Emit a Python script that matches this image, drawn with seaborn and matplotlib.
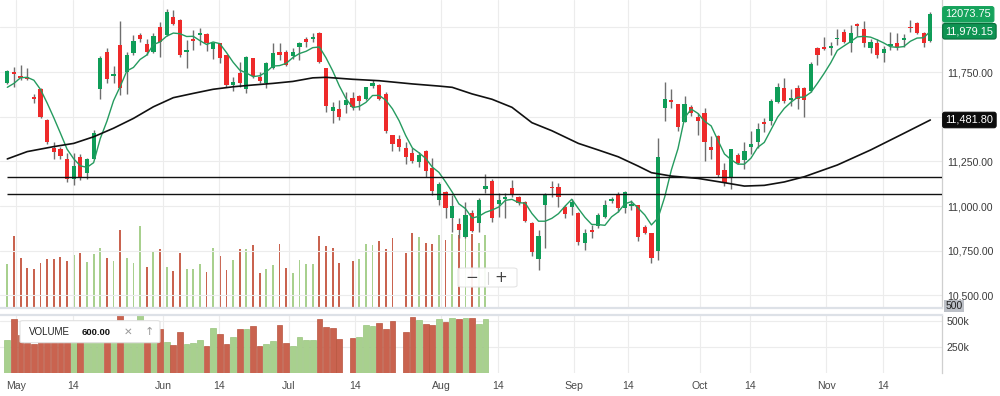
import numpy as np
import pandas as pd
import matplotlib
matplotlib.use("Agg")
import matplotlib.pyplot as plt
import matplotlib.transforms as mtransforms
from matplotlib.patches import FancyBboxPatch
from matplotlib.lines import Line2D
import seaborn as sns

# ---------------- data ----------------
opens = [11689, 11752, 11727, 11724, 11613, 11654, 11482, 11327, 11318, 11262,
         11152, 11276, 11187, 11265, 11654, 11864, 11728, 11902, 11752, 11859,
         11958, 11908, 11864, 12001, 11958, 12057, 12042, 11864, 11936, 11958,
         11964, 11878, 11912, 11846, 11678, 11744, 11654, 11828, 11724, 11691,
         11772, 11861, 11864, 11840, 11892, 11934, 11934, 11967, 11772, 11534,
         11542, 11566, 11604, 11618, 11598, 11672, 11678, 11628, 11398, 11374,
         11324, 11296, 11248, 11308, 11211, 11034, 11081, 10931, 10900, 10825,
         10963, 10903, 11094, 11142, 11010, 11040, 11099, 11053, 11025, 10907,
         10702, 11006, 11109, 11105, 10993, 10993, 10963, 10795, 10866, 10888,
         10941, 11028, 11066, 10987, 11000, 11006, 10881, 10847, 10750, 11547,
         11592, 11572, 11473, 11557, 11497, 11519, 11329, 11392, 11202, 11165,
         11286, 11258, 11333, 11361, 11469, 11476, 11585, 11663, 11594, 11663,
         11659, 11646, 11883, 11893, 11883, 11934, 11977, 11915, 12020, 11990,
         11883, 11915, 11859, 11898, 11915, 11930, 12005, 12027, 11967, 11926]
highs = [11760, 11780, 11788, 11772, 11628, 11660, 11486, 11361, 11333, 11296,
         11296, 11290, 11268, 11426, 11840, 11884, 11784, 12038, 11864, 11958,
         11967, 11934, 11971, 12032, 12102, 12098, 12046, 11930, 11986, 11995,
         11967, 11920, 11915, 11846, 11724, 11808, 11840, 11830, 11752, 11808,
         11915, 11915, 11874, 11884, 11920, 11948, 11967, 11976, 11774, 11584,
         11594, 11640, 11640, 11622, 11668, 11706, 11684, 11640, 11400, 11398,
         11361, 11324, 11304, 11312, 11267, 11137, 11083, 11062, 10931, 11025,
         10978, 11043, 11180, 11150, 11075, 11075, 11146, 11055, 11027, 10909,
         10866, 11071, 11142, 11127, 11006, 11038, 10965, 10870, 10894, 10959,
         11034, 11053, 11081, 11084, 11034, 11008, 10894, 10849, 11380, 11697,
         11654, 11574, 11616, 11566, 11523, 11547, 11392, 11398, 11239, 11320,
         11295, 11361, 11422, 11467, 11491, 11598, 11687, 11715, 11654, 11678,
         11665, 11809, 11893, 11945, 11921, 11990, 11990, 12014, 12025, 12036,
         11934, 11934, 11896, 11977, 11967, 11962, 12042, 12029, 11977, 12085]
lows = [11686, 11665, 11706, 11706, 11579, 11491, 11348, 11262, 11262, 11137,
        11118, 11146, 11152, 11262, 11598, 11691, 11689, 11622, 11626, 11846,
        11920, 11846, 11859, 11836, 11952, 12014, 11833, 11772, 11874, 11902,
        11870, 11822, 11800, 11665, 11646, 11665, 11635, 11716, 11688, 11660,
        11766, 11818, 11784, 11822, 11818, 11892, 11920, 11800, 11528, 11467,
        11482, 11520, 11538, 11538, 11594, 11660, 11594, 11408, 11310, 11310,
        11236, 11240, 11217, 11161, 11062, 11006, 10931, 10857, 10819, 10819,
        10857, 10857, 11071, 10913, 10941, 10931, 11053, 11006, 10913, 10720,
        10642, 10763, 11053, 10993, 10931, 10950, 10782, 10754, 10819, 10875,
        10931, 11015, 10969, 10959, 10978, 10806, 10844, 10679, 10698, 11478,
        11547, 11422, 11471, 11504, 11398, 11254, 11262, 11165, 11112, 11094,
        11236, 11206, 11292, 11323, 11417, 11454, 11579, 11579, 11560, 11542,
        11497, 11641, 11790, 11874, 11846, 11902, 11911, 11865, 11950, 11893,
        11855, 11827, 11809, 11874, 11874, 11893, 11977, 11964, 11889, 11921]
closes = [11756, 11740, 11716, 11714, 11598, 11497, 11361, 11304, 11280, 11152,
          11226, 11164, 11262, 11411, 11828, 11710, 11740, 11660, 11846, 11926,
          11934, 11864, 11952, 11920, 12088, 12020, 11846, 11874, 11926, 11967,
          11912, 11915, 11828, 11678, 11696, 11691, 11833, 11728, 11700, 11803,
          11856, 11846, 11790, 11864, 11915, 11919, 11948, 11808, 11560, 11552,
          11497, 11594, 11556, 11590, 11665, 11691, 11598, 11422, 11348, 11332,
          11273, 11252, 11286, 11195, 11086, 11124, 10987, 11000, 10866, 10950,
          10862, 11034, 11112, 10931, 11034, 11049, 11062, 11019, 10918, 10745,
          10832, 11062, 11099, 11049, 10956, 11025, 10801, 10851, 10853, 10950,
          11006, 11038, 10987, 11081, 11012, 10825, 10847, 10707, 11276, 11598,
          11581, 11445, 11572, 11519, 11478, 11361, 11314, 11174, 11131, 11318,
          11239, 11310, 11346, 11430, 11458, 11590, 11665, 11590, 11603, 11598,
          11594, 11796, 11846, 11878, 11896, 11943, 11921, 11967, 12010, 11911,
          11921, 11846, 11878, 11906, 11893, 11943, 11995, 11967, 11915, 12073.75]
prior_closes = [11630, 11556, 11704, 11679]   # closes before the first candle (feed the 5-day average)

# volume in thousands (only the first sessions carry volume)
volume_k = [312, 514, 360, 284, 277, 320, 353, 353, 364, 336,
            376, 395, 331, 388, 428, 360, 336, 554, 355, 324,
            585, 296, 400, 419, 296, 265, 395, 277, 282, 312,
            260, 428, 372, 272, 343, 424, 424, 447, 253, 277,
            305, 459, 284, 253, 343, 317, 312, 514, 443, 426,
            320, 0, 336, 348, 459, 447, 478, 424, 497, 0,
            395, 537, 507, 466, 459, 518, 483, 530, 518, 525,
            530, 466, 518]

# long moving average (black line) read at sampled sessions
long_ma_idx = [0, 3, 7, 10, 13, 16, 19, 22, 25, 28, 31, 34, 37, 40, 43, 46, 48,
               52, 56, 61, 65, 67, 70, 73, 76, 79, 82, 86, 89, 92, 95, 97, 100,
               104, 108, 111, 114, 117, 120, 125, 130, 135, 139]
long_ma_val = [11264, 11305, 11333, 11351, 11388, 11436, 11491, 11556, 11607, 11631,
               11654, 11668, 11678, 11687, 11698, 11718, 11721, 11710, 11702, 11684,
               11672, 11665, 11628, 11598, 11553, 11467, 11422, 11351, 11314, 11276,
               11224, 11187, 11168, 11155, 11131, 11112, 11116, 11135, 11164, 11230,
               11314, 11407, 11482]

support_levels = [11160, 11066]
price_ticks = [10500, 10750, 11000, 11250, 11500, 11750, 12000]
hidden_price_labels = [11500, 12000]          # covered by the value badges in the reference
vol_ticks_k = [250, 500]
vol_tick_labels = ["250k", "500k"]
month_tick_pos = [1.31, 9.89, 23.45, 31.88, 42.42, 52.36, 65.32, 73.90,
                  85.35, 93.48, 104.32, 111.85, 123.30, 131.88]
month_tick_labels = ["May", "14", "Jun", "14", "Jul", "14", "Aug", "14",
                     "Sep", "14", "Oct", "14", "Nov", "14"]
last_close_label = "12073.75"
short_ma_label = "11,979.15"
long_ma_label = "11,481.80"
legend_value = "600.00"

# ---------------- styling ----------------
sns.set_theme(style="white")
plt.rcParams['font.family'] = ['Liberation Sans', 'DejaVu Sans']

GREEN = "#0f9d58"
RED = "#ee2a2a"
WICK = "#6e6e6e"
VOL_GREEN = "#a8d08e"
VOL_RED = "#c9634f"
GRID = "#ececec"
TXT = "#3a3a3a"

n = len(closes)
df = pd.DataFrame({"i": np.arange(n), "open": opens, "high": highs,
                   "low": lows, "close": closes})
df["up"] = df["close"] >= df["open"]
all_close = pd.Series(prior_closes + closes, dtype=float)
df["ma5"] = all_close.rolling(5).mean().iloc[len(prior_closes):].to_numpy()

vdf = pd.DataFrame({"i": np.arange(len(volume_k)), "vol": volume_k})
prev_close = [prior_closes[-1]] + closes[:-1]
vdf["up"] = [closes[k] >= prev_close[k] for k in range(len(volume_k))]

W, H = 1000, 396
def rect(x0, y0, x1, y1):
    return [x0 / W, 1 - y1 / H, (x1 - x0) / W, (y1 - y0) / H]

fig = plt.figure(figsize=(10, 3.96), dpi=100)
fig.patch.set_facecolor("white")
ax_vol = fig.add_axes(rect(0, 0, 942, 308.3))
ax = fig.add_axes(rect(0, 0, 942, 308.3), sharex=ax_vol)
ax_low = fig.add_axes(rect(0, 315, 942, 372.7), sharex=ax_vol)
ax.patch.set_visible(False)

XL = (-1.10, 140.76)

# overlay volume in the price panel
ax_vol.bar(vdf["i"], vdf["vol"], width=0.28,
           color=np.where(vdf["up"], VOL_GREEN, VOL_RED), linewidth=0)
ax_vol.set_ylim(0, 2189)
ax_vol.set_xlim(*XL)
ax_vol.axis("off")

# grid
ax.set_xticks(month_tick_pos)
ax.set_yticks(price_ticks)
ax.grid(True, color=GRID, lw=0.8)
ax.set_axisbelow(True)

# candles
ax.vlines(df["i"], df["low"], df["high"], color=WICK, lw=1.0, zorder=2)
body_h = np.maximum((df["close"] - df["open"]).abs(), 6)
ax.bar(df["i"], body_h, bottom=np.minimum(df["open"], df["close"]), width=0.64,
       color=np.where(df["up"], GREEN, RED), linewidth=0, zorder=3)

# moving averages
sns.lineplot(x=df["i"], y=df["ma5"], ax=ax, color="#259b5f", lw=1.0, zorder=4)
sns.lineplot(x=long_ma_idx, y=long_ma_val, ax=ax, color="#111111", lw=1.2, zorder=4)

# support lines
ax.hlines(support_levels, 0, XL[1], color="#111111", lw=1.0, zorder=4)

ax.set_xlim(*XL)
ax.set_ylim(10427.5, 12154)
ax.set_xlabel("")
ax.set_ylabel("")
ax.yaxis.tick_right()
ax.set_yticklabels(["" if v in hidden_price_labels else f"{v:,.2f}" for v in price_ticks])
ax.tick_params(axis="y", length=0, pad=3.4, labelsize=7.6, colors=TXT)
ax.tick_params(axis="x", length=0, labelbottom=False)
for s in ["top", "left"]:
    ax.spines[s].set_visible(False)
ax.spines["right"].set_color("#cfcfcf")
ax.spines["right"].set_linewidth(0.9)
ax.spines["bottom"].set_color("#dde1e7")
ax.spines["bottom"].set_linewidth(1.6)

# lower volume panel
ax_low.set_xticks(month_tick_pos)
ax_low.set_yticks(vol_ticks_k)
ax_low.grid(True, color=GRID, lw=0.8)
ax_low.set_axisbelow(True)
ax_low.bar(vdf["i"], vdf["vol"], width=0.86,
           color=np.where(vdf["up"], VOL_GREEN, VOL_RED),
           edgecolor=np.where(vdf["up"], "#98c47c", "#b8553f"), linewidth=0.5)
ax_low.set_xlim(*XL)
ax_low.set_ylim(0, 555)
ax_low.yaxis.tick_right()
ax_low.set_yticklabels(vol_tick_labels)
ax_low.set_xticklabels(month_tick_labels)
ax_low.tick_params(axis="y", length=0, pad=3.4, labelsize=7.6, colors=TXT)
ax_low.tick_params(axis="x", length=0, pad=6, labelsize=7.6, colors="#4a4a4a")
for s in ["left", "bottom"]:
    ax_low.spines[s].set_visible(False)
ax_low.spines["right"].set_color("#cfcfcf")
ax_low.spines["right"].set_linewidth(0.9)
ax_low.spines["top"].set_color("#dde1e7")
ax_low.spines["top"].set_linewidth(1.6)

# value badges on the price axis
bt = mtransforms.blended_transform_factory(ax.transAxes, ax.transData)
def badge(val, text, fc, ec, tc="white"):
    ax.text(1.0036, val, text, transform=bt, ha="left", va="center",
            fontsize=7.9, color=tc, clip_on=False, zorder=10,
            bbox=dict(boxstyle="round,pad=0.25,rounding_size=0.2", fc=fc, ec=ec, lw=0.8))

badge(closes[-1], last_close_label, "#16a35c", "#16a35c")
badge(df["ma5"].iloc[-1], short_ma_label, "#0e9352", "#0a6e3c")
badge(long_ma_val[-1], long_ma_label, "#0c0c0c", "#0c0c0c")

fig.text(945.5 / W, 1 - 306 / H, "500", ha="left", va="center", fontsize=7.4,
         color="#222222", zorder=10,
         bbox=dict(boxstyle="square,pad=0.12", fc="#bcc0c7", ec="none"))

# zoom control
fig.add_artist(FancyBboxPatch((458 / W, 1 - 287 / H), 59 / W, 19 / H,
                              boxstyle="round,pad=0,rounding_size=0.004",
                              transform=fig.transFigure, fc="white", ec="#e2e2e2",
                              lw=0.8, alpha=0.92, zorder=8))
fig.add_artist(Line2D([488 / W, 488 / W], [1 - 272 / H, 1 - 284 / H],
                      transform=fig.transFigure, color="#cfcfcf", lw=0.8, zorder=9))
fig.text(472 / W, 1 - 277.5 / H, "\u2212", ha="center", va="center", fontsize=11,
         color="#444444", family="DejaVu Sans", zorder=9)
fig.text(501 / W, 1 - 277.5 / H, "+", ha="center", va="center", fontsize=11,
         color="#444444", family="DejaVu Sans", zorder=9)

# volume legend box
fig.add_artist(FancyBboxPatch((20 / W, 1 - 342.7 / H), 140 / W, 22 / H,
                              boxstyle="round,pad=0,rounding_size=0.003",
                              transform=fig.transFigure, fc="white", ec="#e0e0e0",
                              lw=0.8, zorder=8))
fig.text(29 / W, 1 - 332 / H, "VOLUME", ha="left", va="center", fontsize=7.0,
         color="#222222", zorder=9)
fig.text(82 / W, 1 - 332.5 / H, legend_value, ha="left", va="center", fontsize=6.8,
         color="#111111", weight="bold", zorder=9)
fig.text(128 / W, 1 - 332 / H, "\u2715", ha="center", va="center", fontsize=7.5,
         color="#9a9a9a", family="DejaVu Sans", zorder=9)
fig.text(149 / W, 1 - 332 / H, "\u2191", ha="center", va="center", fontsize=8,
         color="#9a9a9a", family="DejaVu Sans", zorder=9)

fig.savefig("out.png", dpi=100)
